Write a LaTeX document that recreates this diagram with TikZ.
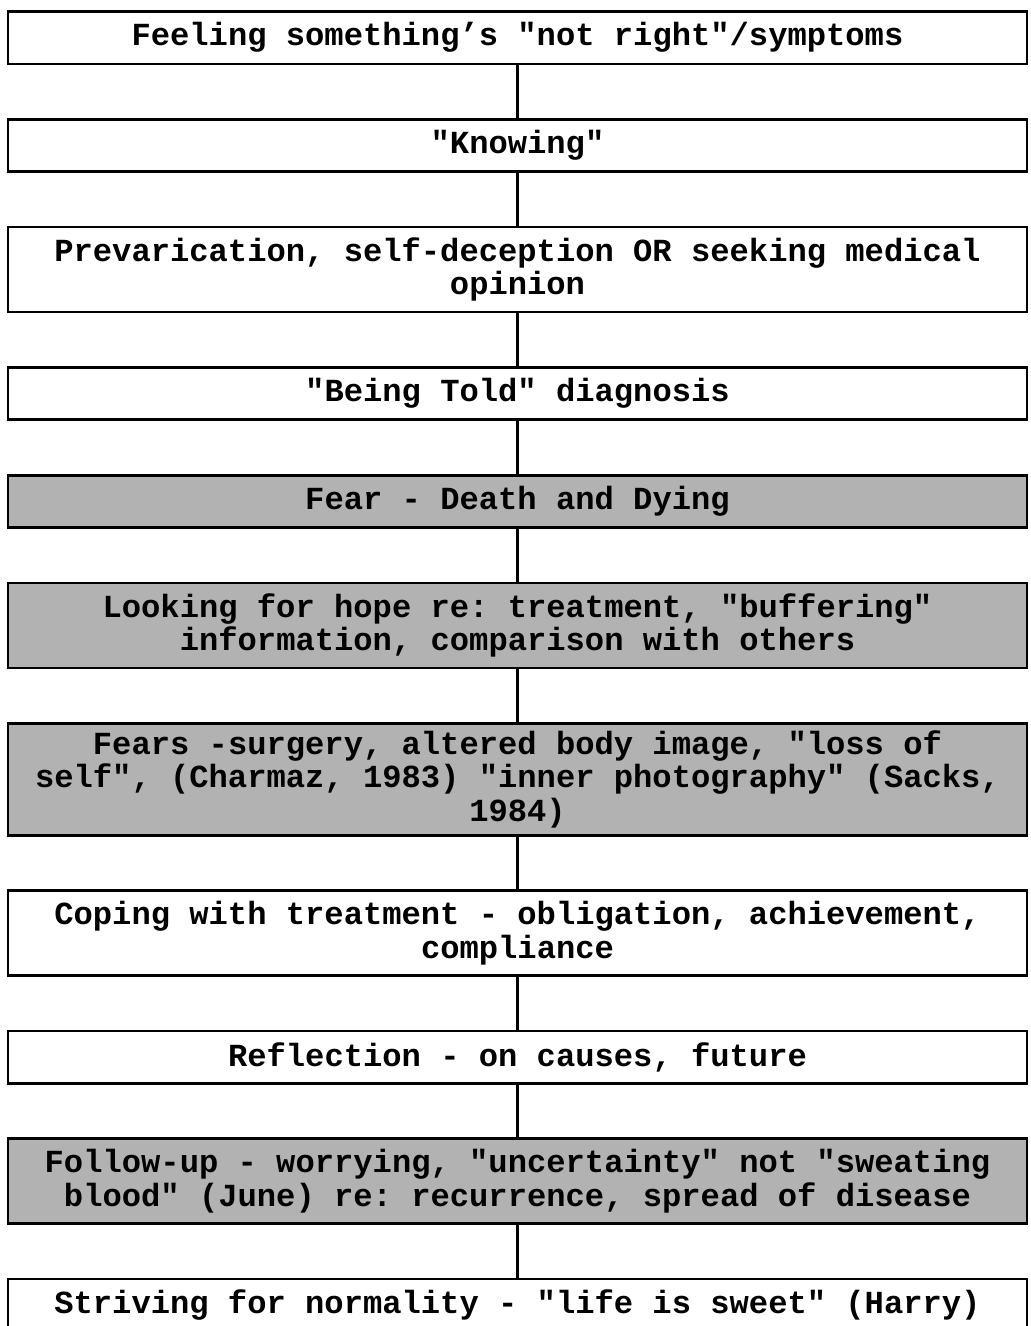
\documentclass[tikz,border=0pt]{standalone}
\usepackage{fontspec}
\setmonofont{Liberation Mono}
\usetikzlibrary{positioning}
\definecolor{shade}{gray}{0.70}

\begin{document}
\begin{tikzpicture}[
    node distance=1.05cm,
    box/.style={draw, line width=1.6pt, align=center, minimum width=20.38cm, minimum height=1.05cm,
      inner sep=0pt, font=\fontsize{18.3}{18.9}\selectfont\ttfamily\bfseries\frenchspacing},
    twoline/.style={minimum height=1.7cm},
    threeline/.style={minimum height=2.24cm},
    grey/.style={fill=shade},
    link/.style={line width=1.2pt}
  ]
    \useasboundingbox (0,0) rectangle (20.62,-26.52);

    \node[box, anchor=north] (feel) at (10.35,-0.2) {Feeling something’s "not right"/symptoms};
    \node[box, below=of feel] (know) {"Knowing"};
    \node[box, twoline, below=of know] (prev) {Prevarication, self-deception OR seeking medical\\opinion};
    \node[box, below=of prev] (told) {"Being Told" diagnosis};
    \node[box, grey, below=of told] (fear) {Fear - Death and Dying};
    \node[box, grey, twoline, below=of fear] (hope) {Looking for hope re: treatment, "buffering"\\information, comparison with others};
    \node[box, grey, threeline, below=of hope] (fears) {Fears -surgery, altered body image, "loss of\\self", (Charmaz, 1983) "inner photography" (Sacks,\\1984)};
    \node[box, twoline, below=of fears] (cope) {Coping with treatment - obligation, achievement,\\compliance};
    \node[box, below=of cope] (refl) {Reflection - on causes, future};
    \node[box, grey, twoline, below=of refl] (follow) {Follow-up - worrying, "uncertainty" not "sweating\\blood" (June) re: recurrence, spread of disease};
    \node[box, below=of follow] (norm) {Striving for normality - "life is sweet" (Harry)};

    \draw[link] (feel) -- (know);
    \draw[link] (know) -- (prev);
    \draw[link] (prev) -- (told);
    \draw[link] (told) -- (fear);
    \draw[link] (fear) -- (hope);
    \draw[link] (hope) -- (fears);
    \draw[link] (fears) -- (cope);
    \draw[link] (cope) -- (refl);
    \draw[link] (refl) -- (follow);
    \draw[link] (follow) -- (norm);
  \end{tikzpicture}
\end{document}
